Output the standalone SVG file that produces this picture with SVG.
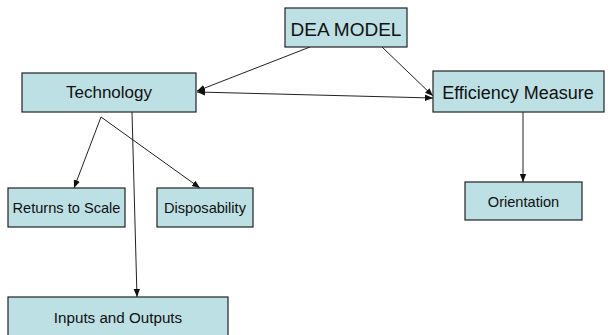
<svg xmlns="http://www.w3.org/2000/svg" width="608" height="335" viewBox="0 0 608 335">
<style>
.box{fill:#bce0e3;stroke:#222;stroke-width:1.2}
.lbl{font-family:"Liberation Sans",Arial,sans-serif;fill:#111;text-anchor:middle}
.edge{stroke:#222;stroke-width:1;fill:none}
</style>
<defs>
<marker id="ah" viewBox="0 0 10 10" refX="10" refY="5" markerWidth="8" markerHeight="8" orient="auto-start-reverse" markerUnits="userSpaceOnUse">
<path d="M0,1 L10,5 L0,9 Z" fill="#111"/>
</marker>
</defs>
<rect width="608" height="335" fill="#fff"/>
<g id="connectors">
<line class="edge" x1="310" y1="47" x2="197" y2="91" marker-end="url(#ah)"/>
<line class="edge" x1="382" y1="47" x2="433" y2="96" marker-end="url(#ah)"/>
<line class="edge" x1="197" y1="92" x2="433" y2="98" marker-start="url(#ah)" marker-end="url(#ah)"/>
<line class="edge" x1="101" y1="117" x2="74" y2="188" marker-end="url(#ah)"/>
<line class="edge" x1="101" y1="117" x2="200" y2="188" marker-end="url(#ah)"/>
<line class="edge" x1="132" y1="112" x2="137" y2="297" marker-end="url(#ah)"/>
<line class="edge" x1="523" y1="112" x2="523" y2="182" marker-end="url(#ah)"/>
</g>
<g id="dea-model"><rect class="box" x="285" y="8" width="122" height="39"/><text class="lbl" x="346" y="36" font-size="19">DEA MODEL</text></g>
<g id="technology"><rect class="box" x="22" y="73" width="174" height="39"/><text class="lbl" x="109" y="98" font-size="17">Technology</text></g>
<g id="efficiency-measure"><rect class="box" x="433" y="71" width="171" height="41"/><text class="lbl" x="518" y="99" font-size="18">Efficiency Measure</text></g>
<g id="returns-to-scale"><rect class="box" x="8" y="188" width="117" height="39"/><text class="lbl" x="66.5" y="213" font-size="14.6">Returns to Scale</text></g>
<g id="disposability"><rect class="box" x="157" y="188" width="96" height="39"/><text class="lbl" x="205" y="213" font-size="14.6">Disposability</text></g>
<g id="orientation"><rect class="box" x="465" y="182" width="117" height="38"/><text class="lbl" x="523.5" y="207" font-size="14.6">Orientation</text></g>
<g id="inputs-and-outputs"><rect class="box" x="8" y="297" width="220" height="40"/><text class="lbl" x="118" y="323" font-size="15.2">Inputs and Outputs</text></g>
</svg>
